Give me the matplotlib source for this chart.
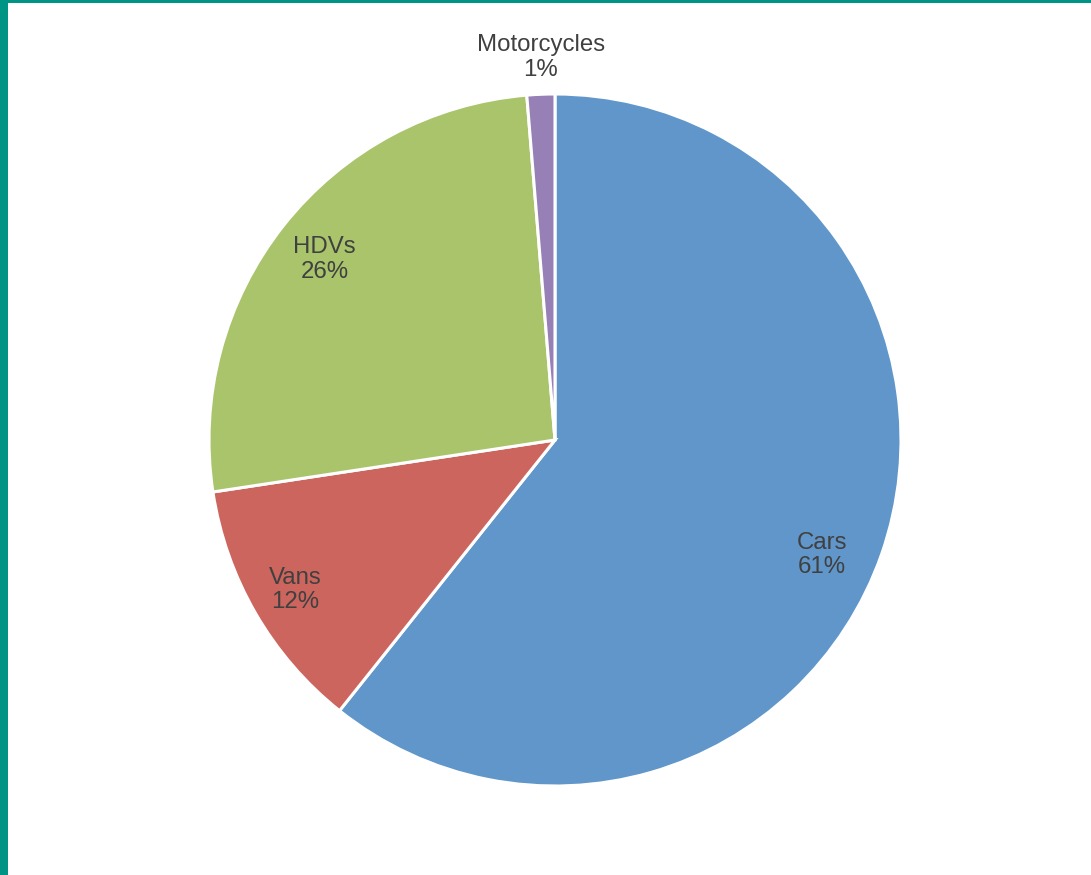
import numpy as np
import matplotlib
matplotlib.use("Agg")
import matplotlib.pyplot as plt
from matplotlib.patches import Rectangle

# Share of emissions by vehicle type (%)
categories = ['Cars', 'Vans', 'HDVs', 'Motorcycles']
values = [60.7, 11.9, 26.1, 1.3]
pct_labels = ['61%', '12%', '26%', '1%']
colors = ['#6096C9', '#CC655D', '#AAC46C', '#9680B6']

W, H = 1091, 875
fig = plt.figure(figsize=(W / 100, H / 100), dpi=100)
fig.patch.set_facecolor('white')

# pie centred at (555, 440) px with radius ~346 px
cx, cy, r = 555, 440, 346
ax = fig.add_axes([(cx - r) / W, (H - cy - r) / H, 2 * r / W, 2 * r / H])

wedges, _ = ax.pie(values, colors=colors, startangle=90, counterclock=False,
                   radius=1, wedgeprops=dict(edgecolor='white', linewidth=2.2))
ax.set_xlim(-1, 1)
ax.set_ylim(-1, 1)
ax.set_aspect('equal')
ax.axis('off')

# labels: inside for big slices, outside for the tiny one
# small nudges (in axes units) to match the original label placement
nudge = {'Cars': (-0.035, -0.05), 'Vans': (-0.01, -0.005),
         'HDVs': (0.005, -0.008), 'Motorcycles': (0.005, -0.008)}
total = sum(values)
cum = 0
for name, v, p in zip(categories, values, pct_labels):
    mid = (cum + v / 2) / total * 2 * np.pi
    cum += v
    dist = 1.115 if v / total < 0.05 else 0.855
    dx, dy = nudge[name]
    x, y = dist * np.sin(mid) + dx, dist * np.cos(mid) + dy
    ax.text(x, y, f"{name}\n{p}", ha='center', va='center', fontsize=17.3,
            color='#404040', family='Liberation Sans', linespacing=1.15)

# teal frame on top and left
fig.add_artist(Rectangle((0, 1 - 3 / H), 1, 3 / H, transform=fig.transFigure,
                         color='#009485', lw=0))
fig.add_artist(Rectangle((0, 0), 8 / W, 1, transform=fig.transFigure,
                         color='#009485', lw=0))

fig.savefig('out.png', dpi=100)
